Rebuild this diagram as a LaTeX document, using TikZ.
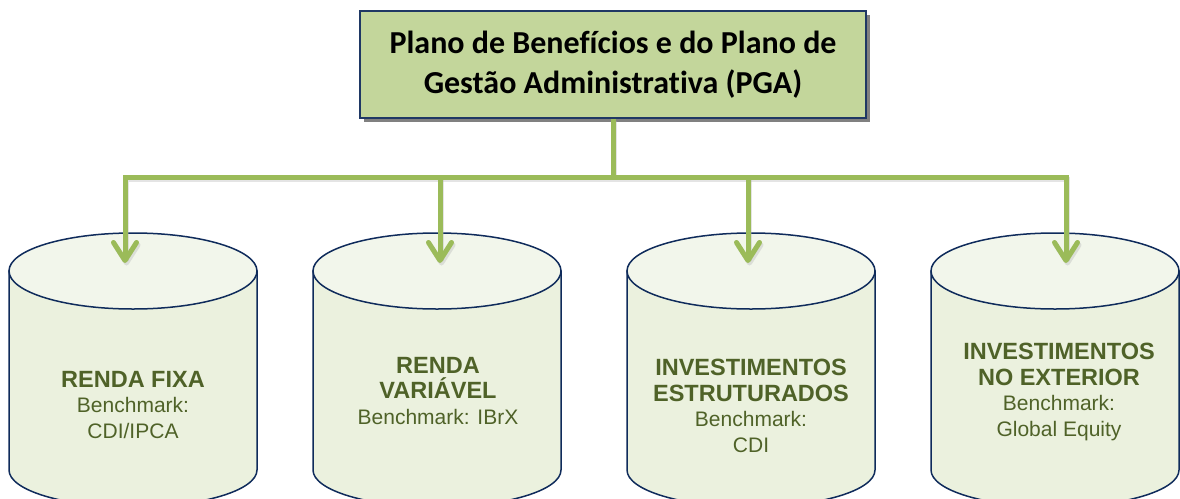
\documentclass[tikz,border=0pt]{standalone}
\usepackage{fontspec}
\setmainfont{Liberation Sans}
\newfontfamily\calibri[Ligatures=NoCommon]{Carlito}
\usetikzlibrary{arrows.meta,positioning,shadows}

\definecolor{boxgreen}{HTML}{C3D69B}
\definecolor{boxline}{HTML}{1F3864}
\definecolor{linkgreen}{HTML}{9BBB59}
\definecolor{tankside}{HTML}{EBF1DE}
\definecolor{tanktop}{HTML}{F2F6EB}
\definecolor{tankline}{HTML}{0F2B5B}
\definecolor{olive}{HTML}{4F6228}

\tikzset{
    planbox/.style={draw=boxline, line width=1.5pt, fill=boxgreen,
        minimum width=506pt, minimum height=107pt, align=center,
        font=\calibri\bfseries\fontsize{32}{40}\selectfont,
        drop shadow={shadow xshift=4pt, shadow yshift=-4pt, fill=black!50, opacity=1}},
    link/.style={draw=linkgreen, line width=5pt,
        preaction={draw=gray!60, opacity=.35, line width=5pt,
            transform canvas={xshift=1.5pt, yshift=-2.5pt}}},
    linkarrow/.style={link, -{Straight Barb[length=18pt, width=23pt, line join=round, line cap=round]}},
    tankbody/.style={fill=tankside, draw=tankline, line width=1.5pt},
    tanklid/.style={fill=tanktop, draw=tankline, line width=1.5pt},
    tanktext/.style={align=center, text=olive, inner sep=0pt, anchor=north,
        font=\fontsize{21}{25.5}\selectfont}
}

% one storage tank, #1 = centre x
\newcommand{\tank}[1]{%
    \filldraw[tankbody] ({#1-124},-271) -- ({#1-124},-470)
        arc[start angle=180, end angle=360, x radius=124, y radius=37]
        -- ({#1+124},-271) -- cycle;
    \filldraw[tanklid] (#1,-271) ellipse[x radius=124, y radius=38];
}
\newcommand{\tanktitle}{\bfseries\fontsize{23.5}{25.5}\selectfont}

\begin{document}
\begin{tikzpicture}[x=1pt, y=1pt]
    \clip (0,0) rectangle (1180,-498);

    % tanks
    \tank{133}
    \tank{437}
    \tank{751}
    \tank{1055}

    % top box
    \node[planbox] (plan) at (613,-64.5) {Plano de Benefícios e do Plano de\\Gestão Administrativa (PGA)};

    % connector points
    \coordinate (hub) at (613,-177);
    \coordinate (rf-in) at (125,-263);
    \coordinate (rv-in) at (440,-263);
    \coordinate (ie-in) at (748,-263);
    \coordinate (ix-in) at (1066,-263);

    % connectors
    \draw[link] (plan.south) -- (hub);
    \draw[linkarrow] (hub) -| (rf-in);
    \draw[linkarrow] (hub) -| (ix-in);
    \draw[linkarrow] (rv-in |- hub) -- (rv-in);
    \draw[linkarrow] (ie-in |- hub) -- (ie-in);

    % tank labels
    \node[tanktext] (rf) at (133,-371) {{\tanktitle RENDA FIXA}\\Benchmark:\\CDI/IPCA};
    \node[tanktext] (rv) at (438,-357) {{\tanktitle RENDA}\\{\tanktitle VARIÁVEL}\\Benchmark: IBrX};
    \node[tanktext] (ie) at (751,-359) {{\tanktitle INVESTIMENTOS}\\{\tanktitle ESTRUTURADOS}\\Benchmark:\\CDI};
    \node[tanktext] (ix) at (1059,-343) {{\tanktitle INVESTIMENTOS}\\{\tanktitle NO EXTERIOR}\\Benchmark:\\Global Equity};
\end{tikzpicture}
\end{document}
